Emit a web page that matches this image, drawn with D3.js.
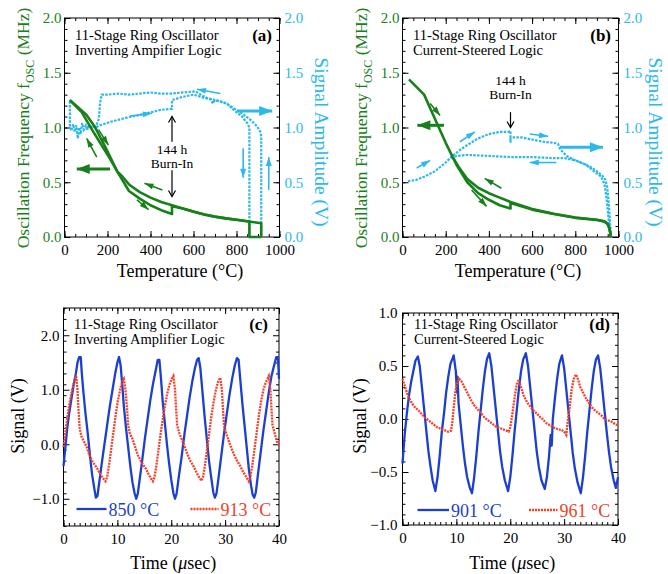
<!DOCTYPE html>
<html><head><meta charset="utf-8">
<script src="https://cdn.jsdelivr.net/npm/d3@7"></script>
<style>
body{margin:0;background:#fff}
svg{display:block}
text{font-family:"Liberation Serif","Times New Roman",serif}
</style>
</head><body>
<svg id="chart" width="668" height="574"></svg>
<script>
// ---------------- DATA ----------------
// Panel (a) : Inverting amplifier logic. [Temperature °C, value]
const aFreqHeat = [[25,1.25],[60,1.19],[100,1.12],[140,1.01],[190,0.82],[245,0.6],[300,0.42],[350,0.35],[400,0.29],[450,0.245],[500,0.21],[500,0.28],[550,0.26],[600,0.23],[650,0.205],[700,0.185],[750,0.17],[800,0.157],[857,0.142],[915,0.125],[915,0]];
const aFreqCool = [[915,0],[860,0],[860,0.142],[800,0.158],[750,0.17],[700,0.186],[650,0.205],[600,0.232],[550,0.26],[500,0.29],[450,0.32],[400,0.36],[350,0.41],[300,0.48],[270,0.55],[245,0.6],[210,0.72],[175,0.83],[125,0.99],[80,1.14],[25,1.25]];
const aAmpHeat = [[25,1.24],[25,1.01],[32,0.97],[40,1.03],[48,0.96],[55,1.02],[62,0.9],[68,1.0],[75,0.94],[82,1.04],[90,0.98],[100,1.02],[110,0.99],[125,1.01],[145,1.0],[165,1.02],[212,1.05],[250,1.07],[290,1.09],[340,1.11],[383,1.13],[445,1.16],[492,1.17],[500,1.17],[500,1.25],[550,1.28],[600,1.3],[650,1.27],[700,1.25],[750,1.22],[800,1.16],[818,1.14],[865,1.07],[896,1.01],[911,0.96],[915,0.92],[915,0]];
const aAmpCool = [[915,0],[860,0],[860,1.0],[850,1.04],[826,1.1],[787,1.16],[756,1.22],[725,1.24],[700,1.25],[690,1.22],[680,1.26],[663,1.27],[640,1.29],[610,1.33],[550,1.32],[500,1.31],[445,1.31],[400,1.32],[350,1.31],[300,1.3],[250,1.31],[200,1.3],[173,1.3],[165,1.22],[160,1.08],[150,1.03],[130,1.0],[115,1.02],[100,0.98]];

// Panel (b) : Current-steered logic
const bFreqHeat = [[30,1.44],[100,1.3],[150,1.08],[200,0.86],[250,0.66],[300,0.5],[350,0.4],[400,0.34],[450,0.29],[500,0.26],[500,0.31],[550,0.28],[600,0.25],[700,0.21],[800,0.175],[900,0.155],[940,0.14],[955,0.1],[962,0.04],[965,0]];
const bFreqCool = [[965,0],[960,0.06],[950,0.12],[930,0.145],[900,0.158],[800,0.178],[700,0.212],[600,0.255],[500,0.32],[450,0.36],[400,0.4],[350,0.45],[300,0.53],[260,0.64],[235,0.72]];
const bAmpHeat = [[25,0.51],[60,0.52],[100,0.55],[150,0.6],[200,0.68],[230,0.74],[270,0.8],[300,0.84],[350,0.9],[400,0.94],[450,0.96],[490,0.96],[500,0.97],[500,0.86],[500,0.91],[550,0.91],[600,0.89],[650,0.87],[700,0.86],[720,0.85],[730,0.8],[760,0.74],[800,0.7],[850,0.66],[880,0.61],[900,0.58],[920,0.55],[935,0.48],[945,0.35],[950,0.25],[955,0.15],[960,0.05],[965,0]];
const bAmpCool = [[965,0],[962,0.1],[958,0.22],[953,0.35],[948,0.45],[940,0.52],[925,0.56],[900,0.6],[870,0.64],[850,0.66],[800,0.7],[750,0.72],[700,0.72],[600,0.73],[500,0.73],[400,0.74],[300,0.75],[250,0.74],[220,0.72]];

// Panel (c) : waveforms, [time µs, signal V]
const c850 = [[0,-0.4],[0.3,-0.1],[0.7,0.3],[1.1,0.6],[1.5,0.85],[1.9,1.1],[2.3,1.3],[2.6,1.5],[2.9,1.6],[3.2,1.6],[3.4,1.3],[3.7,0.95],[4.1,0.55],[4.5,0.2],[4.9,-0.2],[5.3,-0.55],[5.7,-0.8],[6.0,-0.98],[6.3,-0.95],[6.7,-0.65],[7.1,-0.35],[7.6,0.0],[8.1,0.35],[8.6,0.7],[9.1,1.0],[9.6,1.3],[10.0,1.5],[10.3,1.6],[10.6,1.45],[10.9,1.1],[11.2,0.7],[11.6,0.3],[12.0,-0.05],[12.4,-0.4],[12.8,-0.7],[13.2,-0.9],[13.5,-1.0],[13.8,-0.9],[14.2,-0.6],[14.6,-0.3],[15.1,0.1],[15.6,0.45],[16.1,0.8],[16.6,1.1],[17.1,1.35],[17.5,1.55],[17.8,1.55],[18.1,1.2],[18.4,0.8],[18.8,0.4],[19.2,0.0],[19.6,-0.35],[20.0,-0.65],[20.4,-0.9],[20.7,-1.0],[21.0,-0.9],[21.4,-0.6],[21.9,-0.25],[22.4,0.15],[22.9,0.5],[23.4,0.85],[23.9,1.15],[24.4,1.4],[24.8,1.55],[25.1,1.58],[25.4,1.4],[25.8,0.95],[26.2,0.5],[26.6,0.1],[27.0,-0.3],[27.4,-0.6],[27.8,-0.88],[28.1,-0.98],[28.4,-0.9],[28.8,-0.6],[29.3,-0.2],[29.8,0.2],[30.3,0.55],[30.8,0.9],[31.3,1.2],[31.8,1.45],[32.2,1.58],[32.5,1.55],[32.8,1.2],[33.2,0.75],[33.6,0.35],[34.0,-0.05],[34.4,-0.45],[34.8,-0.75],[35.1,-0.92],[35.4,-0.98],[35.7,-0.88],[36.1,-0.55],[36.6,-0.15],[37.1,0.25],[37.6,0.6],[38.1,0.95],[38.6,1.25],[39.1,1.45],[39.5,1.6],[39.8,1.6],[40,1.2]];
const c913 = [[0,-0.05],[0.4,0.25],[0.8,0.55],[1.2,0.8],[1.6,1.0],[2.0,1.15],[2.35,1.25],[2.6,1.0],[2.8,0.6],[3.0,0.3],[3.3,0.15],[3.8,0.05],[4.3,-0.05],[4.8,-0.2],[5.3,-0.3],[5.8,-0.38],[6.3,-0.45],[6.8,-0.55],[7.3,-0.62],[7.8,-0.68],[8.1,-0.6],[8.5,-0.35],[8.9,-0.05],[9.3,0.25],[9.7,0.55],[10.1,0.8],[10.5,1.0],[10.9,1.15],[11.2,1.2],[11.5,1.0],[11.8,0.65],[12.0,0.35],[12.3,0.2],[12.8,0.1],[13.3,-0.05],[13.8,-0.2],[14.3,-0.3],[14.8,-0.38],[15.3,-0.45],[15.8,-0.55],[16.2,-0.62],[16.6,-0.68],[16.9,-0.6],[17.3,-0.35],[17.7,-0.05],[18.1,0.25],[18.5,0.5],[18.9,0.75],[19.3,0.95],[19.7,1.1],[20.1,1.2],[20.4,1.25],[20.7,1.0],[20.9,0.65],[21.1,0.35],[21.5,0.2],[22.0,0.08],[22.5,-0.05],[23.0,-0.18],[23.5,-0.3],[24.0,-0.38],[24.5,-0.48],[25.0,-0.58],[25.6,-0.67],[25.9,-0.6],[26.3,-0.35],[26.7,-0.05],[27.1,0.25],[27.5,0.55],[27.9,0.8],[28.3,1.0],[28.7,1.15],[29.1,1.22],[29.4,1.0],[29.6,0.65],[29.8,0.35],[30.2,0.2],[30.7,0.05],[31.2,-0.08],[31.7,-0.2],[32.2,-0.3],[32.7,-0.38],[33.2,-0.48],[33.8,-0.58],[34.4,-0.68],[34.7,-0.6],[35.1,-0.35],[35.5,-0.05],[35.9,0.25],[36.3,0.55],[36.7,0.8],[37.1,1.0],[37.5,1.12],[38.1,1.25],[38.4,1.0],[38.6,0.65],[38.8,0.35],[39.2,0.2],[39.6,0.05],[40,-0.02]];

// Panel (d)
const d901 = [[0,-0.42],[0.4,-0.15],[0.8,0.05],[1.2,0.22],[1.6,0.35],[2.0,0.45],[2.4,0.55],[2.85,0.59],[3.2,0.5],[3.6,0.3],[4.0,0.1],[4.4,-0.1],[4.8,-0.3],[5.2,-0.45],[5.6,-0.58],[6.1,-0.68],[6.5,-0.55],[6.9,-0.35],[7.3,-0.12],[7.7,0.05],[8.1,0.25],[8.5,0.4],[8.9,0.52],[9.5,0.6],[9.9,0.45],[10.1,0.25],[10.2,0.4],[10.4,0.15],[10.8,-0.05],[11.2,-0.25],[11.6,-0.42],[12.0,-0.55],[12.5,-0.65],[12.9,-0.7],[13.3,-0.55],[13.7,-0.35],[14.1,-0.12],[14.5,0.08],[14.9,0.28],[15.3,0.45],[15.7,0.57],[16.1,0.62],[16.5,0.5],[16.9,0.3],[17.3,0.1],[17.7,-0.1],[18.1,-0.3],[18.5,-0.45],[19.0,-0.58],[19.6,-0.68],[20.0,-0.55],[20.4,-0.35],[20.8,-0.12],[21.2,0.08],[21.6,0.28],[22.0,0.45],[22.4,0.56],[22.9,0.62],[23.3,0.5],[23.7,0.3],[24.1,0.1],[24.5,-0.1],[24.9,-0.3],[25.3,-0.45],[25.8,-0.58],[26.4,-0.66],[26.8,-0.55],[27.2,-0.35],[27.5,-0.15],[27.7,-0.25],[27.9,0.0],[28.3,0.2],[28.7,0.38],[29.1,0.52],[29.6,0.6],[30.0,0.48],[30.4,0.28],[30.8,0.08],[31.2,-0.12],[31.6,-0.32],[32.0,-0.47],[32.5,-0.6],[33.1,-0.7],[33.5,-0.55],[33.9,-0.35],[34.3,-0.12],[34.7,0.08],[35.1,0.28],[35.5,0.45],[35.9,0.56],[36.3,0.6],[36.7,0.48],[37.1,0.28],[37.5,0.08],[37.9,-0.12],[38.3,-0.3],[38.7,-0.45],[39.2,-0.58],[39.6,-0.65],[40,-0.55]];
const d961 = [[0,0.38],[0.5,0.3],[1.0,0.22],[1.5,0.17],[2.0,0.13],[2.5,0.1],[3.0,0.08],[3.5,0.05],[4.0,0.02],[4.5,0.0],[5.0,-0.02],[5.5,-0.04],[6.0,-0.06],[6.5,-0.08],[7.0,-0.09],[7.5,-0.1],[8.0,-0.11],[8.5,-0.12],[9.0,-0.11],[9.2,-0.05],[9.5,0.1],[9.8,0.25],[10.1,0.33],[10.5,0.38],[10.9,0.36],[11.3,0.32],[11.8,0.27],[12.3,0.22],[12.8,0.17],[13.3,0.13],[13.8,0.1],[14.3,0.07],[14.8,0.04],[15.3,0.01],[15.8,-0.01],[16.3,-0.03],[16.8,-0.05],[17.3,-0.07],[17.8,-0.08],[18.3,-0.09],[18.8,-0.1],[19.3,-0.11],[19.7,-0.12],[20.0,-0.08],[20.4,0.05],[20.8,0.2],[21.2,0.33],[21.6,0.37],[22.0,0.3],[22.5,0.22],[23.0,0.17],[23.5,0.13],[24.0,0.1],[24.5,0.07],[25.0,0.05],[25.5,0.02],[26.0,0.0],[26.5,-0.03],[27.0,-0.05],[27.5,-0.06],[28.0,-0.08],[28.5,-0.09],[29.0,-0.1],[29.5,-0.1],[30.0,-0.12],[30.4,-0.15],[30.6,-0.05],[31.0,0.1],[31.4,0.28],[31.8,0.38],[32.2,0.42],[32.6,0.37],[33.0,0.3],[33.5,0.25],[34.0,0.2],[34.5,0.16],[35.0,0.12],[35.5,0.09],[36.0,0.07],[36.5,0.05],[37.0,0.03],[37.5,0.0],[38.0,-0.01],[38.5,-0.02],[39.0,-0.03],[39.5,-0.05],[40,-0.06]];

// Tick values
const tempTicks = [0,200,400,600,800,1000];
const freqTicks = [0,0.5,1.0,1.5,2.0];
const timeTicks = [0,10,20,30,40];
const cSigTicks = [-1.0,0.0,1.0,2.0];
const dSigTicks = [-1.0,-0.5,0.0,0.5,1.0];

// Annotation arrows in data units: [x1,y1,x2,y2,kind]
const aGreenArrows = [[212,0.62,57,0.62,'big'],[158,0.98,204,0.84,'s'],[150,0.73,103,0.9,'s'],[455,0.43,372,0.49,'s'],[337,0.34,391,0.25,'s']];
const aCyanArrows = [[305,1.105,406,1.13,'s'],[725,1.31,616,1.35,'s'],[803,1.15,966,1.15,'big'],[831,0.81,831,0.54,'s'],[950,0.43,950,0.73,'s']];
const bGreenArrows = [[192,1.02,69,1.02,'big'],[128,1.22,174,1.11,'s'],[458,0.445,381,0.535,'s'],[320,0.43,389,0.28,'s']];
const bCyanArrows = [[66,0.63,128,0.7,'s'],[266,0.87,335,0.96,'s'],[589,0.94,674,0.92,'s'],[728,0.82,928,0.82,'big'],[712,0.68,589,0.68,'s']];

// ---------------- DRAW ----------------
const GREEN = '#17801a', CYAN = '#2bb8ec', BLUE = '#1c3fd0', RED = '#f2412a';
const svg = d3.select('#chart');
const defs = svg.append('defs');
function mk(id, color, len, w, open){
  const m = defs.append('marker').attr('id',id).attr('markerUnits','userSpaceOnUse')
    .attr('viewBox',`0 0 ${len} ${w}`).attr('refX',len).attr('refY',w/2)
    .attr('markerWidth',len).attr('markerHeight',w).attr('orient','auto').style('overflow','visible');
  if(open) m.append('path').attr('d',`M0,0L${len},${w/2}L0,${w}`).attr('fill','none').attr('stroke',color).attr('stroke-width',1.2);
  else m.append('path').attr('d',`M0,0L${len},${w/2}L0,${w}Z`).attr('fill',color);
}
mk('gS',GREEN,9,6); mk('gB',GREEN,13,10); mk('cS',CYAN,9,6); mk('cB',CYAN,13,10); mk('kO','#000',6,7,true);

function frameAndTicks(g, x, y, o){
  const [l,r] = x.range(), [b,t] = y.range();
  const fmt = o.fmt;
  const minX = d3.range(o.xd[0], o.xd[1]+1e-9, o.xMinor), minY = d3.range(o.yd[0], o.yd[1]+1e-9, o.yMinor);
  const style = s => s.call(a=>a.select('.domain').remove()).call(a=>a.selectAll('line').attr('stroke','#000'));
  g.append('g').attr('transform',`translate(0,${b})`).call(d3.axisBottom(x).tickValues(minX).tickSize(-3).tickFormat('')).call(style);
  g.append('g').attr('transform',`translate(0,${t})`).call(d3.axisTop(x).tickValues(minX).tickSize(-3).tickFormat('')).call(style);
  g.append('g').attr('transform',`translate(${l},0)`).call(d3.axisLeft(y).tickValues(minY).tickSize(-3).tickFormat('')).call(style);
  g.append('g').attr('transform',`translate(${r},0)`).call(d3.axisRight(y).tickValues(minY).tickSize(-3).tickFormat('')).call(style);
  const bx = g.append('g').attr('transform',`translate(0,${b})`).call(d3.axisBottom(x).tickValues(o.xTicks).tickSize(-6).tickPadding(7).tickFormat(d3.format('d'))).call(style);
  g.append('g').attr('transform',`translate(0,${t})`).call(d3.axisTop(x).tickValues(o.xTicks).tickSize(-6).tickFormat('')).call(style);
  const ly = g.append('g').attr('transform',`translate(${l},0)`).call(d3.axisLeft(y).tickValues(o.yTicks).tickSize(-6).tickPadding(o.lpad).tickFormat(fmt)).call(style);
  const ry = g.append('g').attr('transform',`translate(${r},0)`).call(d3.axisRight(y).tickValues(o.yTicks).tickSize(-6).tickPadding(5).tickFormat(o.right?fmt:'')).call(style);
  [bx,ly,ry].forEach(a=>a.attr('font-family',null).attr('font-size',null).selectAll('text').style('font-size','15px').attr('fill','#000'));
  ly.selectAll('text').attr('fill',o.lc||'#000');
  ry.selectAll('text').attr('fill',o.rc||'#000');
  g.append('rect').attr('x',l).attr('y',t).attr('width',r-l).attr('height',b-t).attr('fill','none').attr('stroke','#000').attr('stroke-width',1);
}

function arrows(g, x, y, list, color, pre){
  list.forEach(a=>{
    g.append('line').attr('x1',x(a[0])).attr('y1',y(a[1])).attr('x2',x(a[2])).attr('y2',y(a[3]))
      .attr('stroke',color).attr('stroke-width',a[4]==='big'?3:1.6)
      .attr('marker-end',`url(#${pre}${a[4]==='big'?'B':'S'})`);
  });
}

function title(g, x0, y0, l1, l2, tag, xr){
  g.append('text').attr('x',x0).attr('y',y0).style('font-size','14.5px').text(l1);
  g.append('text').attr('x',x0).attr('y',y0+15).style('font-size','14.5px').text(l2);
  g.append('text').attr('x',xr).attr('y',y0+1).attr('text-anchor','end').style('font-size','17px').style('font-weight','bold').text(tag);
}

function topPanel(P){
  const g = svg.append('g');
  const x = d3.scaleLinear().domain([0,1000]).range([P.l,P.r]);
  const y = d3.scaleLinear().domain([0,2]).range([P.b,P.t]);
  frameAndTicks(g,x,y,{xd:[0,1000],yd:[0,2],xMinor:50,yMinor:0.1,xTicks:tempTicks,yTicks:freqTicks,fmt:d3.format('.1f'),lpad:3,right:true,lc:GREEN,rc:CYAN});
  const line = d3.line().x(d=>x(d[0])).y(d=>y(d[1]));
  [P.ampH,P.ampC].forEach(s=>g.append('path').attr('d',line(s)).attr('fill','none').attr('stroke',CYAN).attr('stroke-width',2.2).attr('stroke-dasharray','2.5,1.3'));
  [P.fH,P.fC].forEach(s=>g.append('path').attr('d',line(s)).attr('fill','none').attr('stroke',GREEN).attr('stroke-width',2.6).attr('stroke-linejoin','round'));
  arrows(g,x,y,P.ga,GREEN,'g');
  arrows(g,x,y,P.ca,CYAN,'c');
  P.burn.forEach(a=>g.append('line').attr('x1',x(500)).attr('y1',y(a[0])).attr('x2',x(500)).attr('y2',y(a[1])).attr('stroke','#000').attr('stroke-width',1.2).attr('marker-end','url(#kO)'));
  g.append('text').attr('x',x(500)).attr('y',P.bt).attr('text-anchor','middle').style('font-size','13.5px').text('144 h');
  g.append('text').attr('x',x(500)).attr('y',P.bt+14).attr('text-anchor','middle').style('font-size','13.5px').text('Burn-In');
  title(g,P.l+10.5,40,'11-Stage Ring Oscillator',P.sub,P.tag,P.r-7.5);
  g.append('text').attr('x',180+(P.l-64.5)).attr('y',277).attr('text-anchor','middle').style('font-size','18px').text('Temperature (°C)');
  const yl = g.append('text').attr('transform',`translate(${P.l-36},128) rotate(-90)`).attr('text-anchor','middle').attr('fill',GREEN).style('font-size','17.5px');
  yl.append('tspan').text('Oscillation Frequency f');
  yl.append('tspan').attr('dy',5).style('font-size','12px').text('OSC');
  yl.append('tspan').attr('dy',-5).text(' (MHz)');
  g.append('text').attr('transform',`translate(${P.rl},142) rotate(90)`).attr('text-anchor','middle').attr('fill',CYAN).style('font-size','19.5px').text('Signal Amplitude (V)');
}

topPanel({l:64.5,r:279.5,t:18,b:237,fH:aFreqHeat,fC:aFreqCool,ampH:aAmpHeat,ampC:aAmpCool,ga:aGreenArrows,ca:aCyanArrows,
  burn:[[0.87,1.1],[0.61,0.37]],bt:154,sub:'Inverting Ampifier Logic',tag:'(a)',rl:315});
topPanel({l:402.5,r:618.5,t:18,b:237,fH:bFreqHeat,fC:bFreqCool,ampH:bAmpHeat,ampC:bAmpCool,ga:bGreenArrows,ca:bCyanArrows,
  burn:[[1.14,1.0]],bt:85,sub:'Current-Steered Logic',tag:'(b)',rl:649});

function botPanel(P){
  const g = svg.append('g');
  const x = d3.scaleLinear().domain([0,40]).range([P.l,P.r]);
  const y = d3.scaleLinear().domain(P.yd).range([P.b,P.t]);
  frameAndTicks(g,x,y,{xd:[0,40],yd:P.yd,xMinor:1,yMinor:P.yMinor,xTicks:timeTicks,yTicks:P.yTicks,fmt:d3.format('.1f'),lpad:P.lpad,right:false});
  const line = d3.line().x(d=>x(d[0])).y(d=>y(d[1]));
  g.append('path').attr('d',line(P.s1)).attr('fill','none').attr('stroke',BLUE).attr('stroke-width',2.3).attr('stroke-linejoin','round');
  g.append('path').attr('d',line(P.s2)).attr('fill','none').attr('stroke',RED).attr('stroke-width',2.3).attr('stroke-dasharray','2,1');
  const ly = P.ly;
  g.append('line').attr('x1',P.l+P.lg[0]).attr('x2',P.l+P.lg[1]).attr('y1',ly).attr('y2',ly).attr('stroke',BLUE).attr('stroke-width',2.3);
  g.append('text').attr('x',P.l+P.lg[1]+2).attr('y',ly+6.5).attr('fill',BLUE).style('font-size','18px').text(P.n1);
  g.append('line').attr('x1',P.l+P.lg[2]).attr('x2',P.l+P.lg[3]).attr('y1',ly).attr('y2',ly).attr('stroke',RED).attr('stroke-width',2.3).attr('stroke-dasharray','2,1');
  g.append('text').attr('x',P.l+P.lg[3]+2).attr('y',ly+6.5).attr('fill',RED).style('font-size','18px').text(P.n2);
  title(g,P.l+P.tx,P.ty,'11-Stage Ring Oscillator',P.sub,P.tag,P.r-P.tr);
  const xt = g.append('text').attr('x',(P.l+P.r)/2+2).attr('y',569).attr('text-anchor','middle').style('font-size','18px');
  xt.append('tspan').text('Time (');
  xt.append('tspan').style('font-style','italic').text('μ');
  xt.append('tspan').text('sec)');
  g.append('text').attr('transform',`translate(${P.yl},416) rotate(-90)`).attr('text-anchor','middle').style('font-size','18px').text('Signal (V)');
}

botPanel({l:63.5,r:279,t:308,b:526,yd:[-1.5,2.5],yMinor:0.2,yTicks:cSigTicks,lpad:4,s1:c850,s2:c913,ly:509,lg:[13,43,127,155],n1:'850 °C',n2:'913 °C',
  tx:10.5,ty:328.5,sub:'Inverting Amplifier Logic',tag:'(c)',tr:11,yl:24});
botPanel({l:402.5,r:618,t:313,b:525,yd:[-1.0,1.0],yMinor:0.1,yTicks:dSigTicks,lpad:5,s1:d901,s2:d961,ly:510,lg:[15,46.5,126.5,155],n1:'901 °C',n2:'961 °C',
  tx:11.5,ty:328.5,sub:'Current-Steered Logic',tag:'(d)',tr:8,yl:366});
</script>
</body></html>
